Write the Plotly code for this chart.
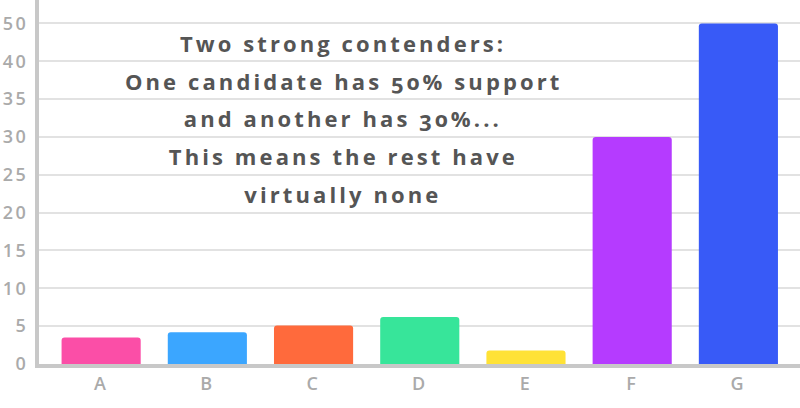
import plotly.graph_objects as go

# data
categories = ["A", "B", "C", "D", "E", "F", "G"]
support = [3.5, 4.2, 5.1, 6.2, 1.8, 30, 45]
bar_colors = ["#fb4ea7", "#3ba6ff", "#ff6a3c", "#37e59a", "#ffe236", "#b53bff", "#385af7"]

# y axis is labelled oddly in the original: the top line reads 50 (no 45)
y_tick_vals = [0, 5, 10, 15, 20, 25, 30, 35, 40, 45]
y_tick_text = ["0", "5", "10", "15", "20", "25", "30", "35", "40", "50"]

note_lines = [
    "Two strong contenders:",
    "One candidate has 50% support",
    "and another has 30%...",
    "This means the rest have",
    "virtually none",
]

fig = go.Figure(go.Bar(
    x=categories,
    y=support,
    marker=dict(color=bar_colors, line=dict(width=0), cornerradius=3),
    width=0.745,
))

# annotation text, one line each so the spacing can match
for i, line in enumerate(note_lines):
    fig.add_annotation(
        text=line,
        xref="paper", yref="paper",
        x=0.4, y=0.882 - i * 0.1035,
        xanchor="center", yanchor="middle",
        showarrow=False,
        font=dict(family="Open Sans, sans-serif", size=22, weight=700, color="#555555"),
    )

tick_font = dict(family="Open Sans, sans-serif", size=18, weight=600, color="#aaaaaa")

fig.update_layout(
    width=800, height=408,
    margin=dict(l=39, r=0, t=0, b=44),
    plot_bgcolor="white",
    paper_bgcolor="white",
    showlegend=False,
)
fig.update_xaxes(
    range=[-0.585, 6.58], automargin=False,
    showline=True, linecolor="#c8c8c8", linewidth=4,
    showgrid=False, ticks="", tickfont=tick_font,
)
fig.update_yaxes(
    range=[0, 48.1], automargin=False,
    tickvals=y_tick_vals, ticktext=y_tick_text,
    showline=True, linecolor="#c8c8c8", linewidth=4,
    showgrid=True, gridcolor="#e2e2e2", gridwidth=1.5,
    zeroline=False, ticks="", ticklabelstandoff=3,
    tickfont=tick_font,
)

# no page margin, and the widely spaced lettering of the original
page_js = """
document.body.style.margin = '0';
document.querySelectorAll('.annotation-text').forEach(function(t){
  t.style.letterSpacing = '3.1px';
  t.style.fontVariantNumeric = 'oldstyle-nums';
});
document.querySelectorAll('.xtick text, .ytick text').forEach(function(t){
  t.style.letterSpacing = '2.5px';
});
"""

fig.write_html("out.html", post_script=page_js, config={"displayModeBar": False})
